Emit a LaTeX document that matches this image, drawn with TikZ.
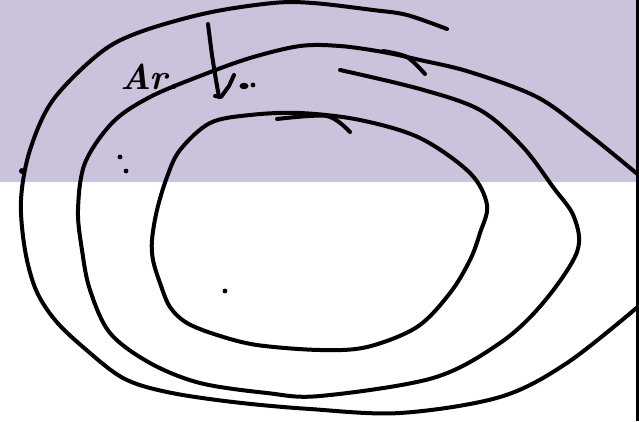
\documentclass[tikz,border=0pt]{standalone}
\usetikzlibrary{calc}
\definecolor{lilac}{RGB}{203,194,220}
\tikzset{
  ink/.style={line width=4bp, line cap=round, line join=round, black},
  inkdot/.style={fill=black, draw=none},
  hand/.style={font=\fontsize{36}{36}\selectfont\bfseries\itshape, inner sep=0pt, anchor=base west}
}
\begin{document}
\begin{tikzpicture}[x=1bp,y=-1bp]
\useasboundingbox (0,0) rectangle (639,421);
\fill[lilac] (0,0) rectangle (636,182);
\begin{scope}
\clip (0,0) rectangle (636.5,421);
% outer stroke
\draw[ink] plot[smooth, tension=0.55] coordinates {
 (447,29) (407,15) (373,10) (313,3) (273,3) (207,13) (140,32) (100,53) (53,100) (30,150) (21,200) (25,250) (36,290) (55,320) (83,347) (123,378) (167,392) (233,402) (310,409) (400,413) (500,397) (567,363) (640,305)};
% middle spiral
\draw[ink] plot[smooth, tension=0.55] coordinates {
 (641,177) (587,133) (537,97) (470,72) (420,60) (383,52) (340,46) (300,46) (250,58) (200,76) (150,97) (113,122) (85,163) (78,210) (82,250) (90,290) (110,333) (150,363) (200,383) (267,393) (320,396) (433,378) (500,343) (543,303) (577,252) (574,217) (553,187) (522,146) (480,110) (420,89) (340,70)};
\end{scope}
% inner loop
\draw[ink] plot[smooth cycle, tension=0.55] coordinates {
 (300,113) (360,120) (420,138) (470,173) (487,205) (480,233) (470,260) (450,293) (417,327) (367,347) (320,350) (257,345) (217,335) (187,323) (170,307) (160,283) (153,260) (152,240) (157,210) (167,177) (180,150) (210,123) (250,115)};
% hooks
\draw[ink] plot[smooth] coordinates {(383,51) (407,57) (425,74)};
\draw[ink] plot[smooth] coordinates {(277,119) (327,116) (350,132)};
% down stroke with curl
\draw[ink] plot[smooth, tension=0.4] coordinates {(208,24) (212,55) (216,80) (219,97)};
\draw[ink] (215,96) -- (221,97) -- (229,86) -- (234,75);
\fill[inkdot] (244,86) ellipse (4.5bp and 3.2bp);
\fill[inkdot] (253,85) circle (2.4bp);
% handwriting
\node[hand] (ar) at (120,89) {Ar.};
% dots
\fill[inkdot] (120,157) circle (2.4bp);
\fill[inkdot] (126,171) circle (2.4bp);
\fill[inkdot] (22,171) circle (3bp);
\fill[inkdot] (225,291) circle (2.4bp);
% right edge line
\draw[line width=3bp] (637.5,0) -- (637.5,421);
\end{tikzpicture}
\end{document}
